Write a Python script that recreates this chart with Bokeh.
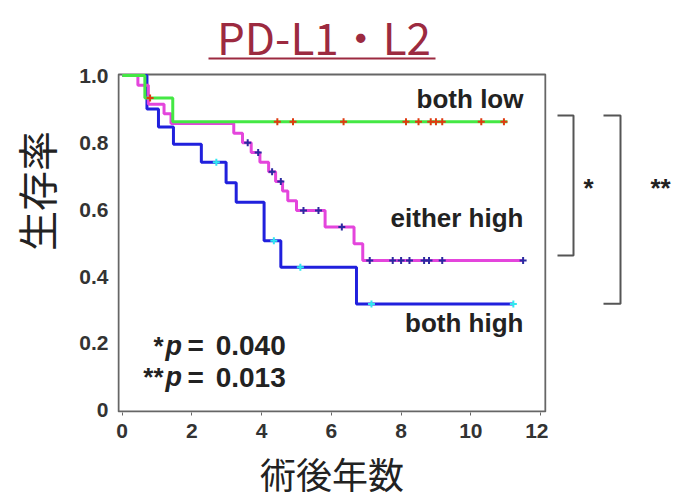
import math
from bokeh.plotting import figure
from bokeh.layouts import row
from bokeh.models import Range1d, FixedTicker
from bokeh.core.properties import value
from bokeh.embed import file_html
from bokeh.resources import INLINE

# ---------------- data ----------------
low_t = [0, 0.65, 1.45, 11.05]
low_s = [1.0, 0.933, 0.862, 0.862]
low_cens = [0.8, 4.45, 4.9, 6.35, 8.14, 8.5, 8.85, 9.0, 9.18, 10.3, 10.95]

either_t = [0, 0.45, 0.75, 1.2, 1.4, 3.2, 3.45, 3.7, 3.95, 4.2, 4.4, 4.6, 4.75, 5.0,
            5.82, 6.65, 6.9, 11.5]
either_s = [1.0, 0.971, 0.914, 0.886, 0.857, 0.828, 0.799, 0.770, 0.741, 0.713, 0.684,
            0.655, 0.626, 0.597, 0.548, 0.498, 0.448, 0.448]
either_cens = [3.6, 3.9, 4.3, 4.55, 5.2, 5.63, 6.3, 7.1, 7.76, 8.0, 8.24, 8.66, 8.8,
               9.18, 11.5]

high_t = [0, 0.71, 1.04, 1.47, 2.27, 2.98, 3.27, 4.07, 4.55, 6.72, 11.22]
high_s = [1.0, 0.90, 0.846, 0.795, 0.741, 0.68, 0.622, 0.507, 0.428, 0.318, 0.318]
high_cens = [2.7, 4.35, 5.11, 7.15, 11.22]

x_ticks = [0, 2, 4, 6, 8, 10, 12]
y_ticks = [0, 0.2, 0.4, 0.6, 0.8, 1.0]
y_tick_labels = {0: "0", 0.2: "0.2", 0.4: "0.4", 0.6: "0.6", 0.8: "0.8", 1.0: "1.0"}

title_text = "PD-L1・L2"
x_label = "術後年数"
y_label = "生存率"
group_labels = ["both low", "either high", "both high"]
p_stars = ["*", "**"]
p_values = ["0.040", "0.013"]

# plot-box limits (data units)
box_x = (-0.106, 12.14)
box_y = (-0.003, 1.003)


def surv_at(t, ts, ss):
    s = ss[0]
    for ti, si in zip(ts, ss):
        if ti <= t:
            s = si
    return s


SANS = value("Liberation Sans")
JP = value("Noto Sans CJK JP")
TXT = "#222222"
FRAME = "#666666"
TITLE_C = "#9c2a40"


def bare(fig):
    fig.axis.visible = False
    fig.grid.visible = False
    fig.outline_line_color = None


# ---------------- left strip: y label ----------------
lf = figure(width=70, height=499, x_range=Range1d(0, 70), y_range=Range1d(499, 0),
            output_backend="svg", toolbar_location=None,
            min_border_left=0, min_border_right=0, min_border_top=0, min_border_bottom=0)
bare(lf)
lf.text(x=[35], y=[232], text=[y_label], angle=math.pi / 2, text_align="center",
        text_baseline="middle", text_font=JP, text_font_size="40px", text_color=TXT)

# ---------------- main plot ----------------
yr = Range1d(-0.006, 1.224)
p = figure(frame_width=429, frame_height=412, x_range=Range1d(-0.135, 12.171), y_range=yr,
           output_backend="svg", toolbar_location=None,
           min_border_left=47, min_border_right=2, min_border_top=0, min_border_bottom=87,
           x_axis_label=x_label)
p.extra_x_ranges = {"px": Range1d(117, 546)}
p.extra_y_ranges = {"px": Range1d(412, 0)}
p.grid.visible = False
p.outline_line_color = None
p.background_fill_color = "white"

p.xaxis.ticker = FixedTicker(ticks=x_ticks)
p.yaxis.ticker = FixedTicker(ticks=y_ticks)
p.yaxis.major_label_overrides = y_tick_labels
for ax in (p.xaxis, p.yaxis):
    ax.axis_line_color = None
    ax.minor_tick_line_color = None
    ax.major_label_text_font = "Liberation Sans"
    ax.major_label_text_font_style = "bold"
    ax.major_label_text_font_size = "21px"
    ax.major_label_text_color = "#333333"
p.xaxis.axis_label_text_font = "Noto Sans CJK JP"
p.xaxis.axis_label_text_font_style = "normal"
p.xaxis.axis_label_text_color = TXT
p.xaxis.major_tick_out = 3
p.xaxis.major_tick_in = 0
p.xaxis.major_tick_line_color = FRAME
p.xaxis.major_label_standoff = 8
p.xaxis.axis_label_standoff = 6
p.xaxis.axis_label_text_font_size = "36px"
p.yaxis.major_tick_out = 0
p.yaxis.major_tick_in = 0
p.yaxis.major_label_standoff = 9

# title with underline
p.text(x=[323.5], y=[35], text=[title_text], text_align="center", text_baseline="middle",
       text_font=JP, text_font_size="44px", text_color=TITLE_C,
       x_range_name="px", y_range_name="px")
p.segment(x0=[208], y0=[58], x1=[435], y1=[58], line_color=TITLE_C, line_width=2,
          x_range_name="px", y_range_name="px")

# plot box
p.quad(left=[box_x[0]], right=[box_x[1]], bottom=[box_y[0]], top=[box_y[1]],
       fill_color=None, line_color=FRAME, line_width=2)

curves = [
    (high_t, high_s, high_cens, "#2020dd", "#30e8f0"),
    (either_t, either_s, either_cens, "#e445dc", "#2a2aa0"),
    (low_t, low_s, low_cens, "#44e844", "#e03a10"),
]
for ts, ss, cens, col, ccol in curves:
    p.step(ts, ss, mode="after", line_color=col, line_width=3)
for ts, ss, cens, col, ccol in curves:
    p.scatter(cens, [surv_at(c, ts, ss) for c in cens], marker="cross", size=7,
              line_color=ccol, line_width=2)

label_y = [0.931, 0.576, 0.26]
p.text(x=[11.51] * 3, y=label_y, text=group_labels, text_align="right",
       text_baseline="middle", text_font=SANS, text_font_style="bold",
       text_font_size="26px", text_color=TXT)

pv_y = [0.194, 0.0985]
p.text(x=[1.185] * 2, y=pv_y, text=p_stars, text_align="right", text_baseline="middle",
       text_font=SANS, text_font_style="bold", text_font_size="26px", text_color=TXT)
p.text(x=[1.24] * 2, y=pv_y, text=["p", "p"], text_align="left", text_baseline="middle",
       text_font=SANS, text_font_style="bold italic", text_font_size="27px", text_color=TXT)
p.text(x=[1.87] * 2, y=pv_y, text=["=", "="], text_align="left", text_baseline="middle",
       text_font=SANS, text_font_style="bold", text_font_size="28px", text_color=TXT)
p.text(x=[2.68] * 2, y=pv_y, text=p_values, text_align="left", text_baseline="middle",
       text_font=SANS, text_font_style="bold", text_font_size="28px", text_color=TXT)

# ---------------- right strip: significance brackets ----------------
q = figure(width=129, frame_height=412, x_range=Range1d(548, 677), y_range=yr,
           output_backend="svg", toolbar_location=None,
           min_border_left=0, min_border_right=0, min_border_top=0, min_border_bottom=87)
bare(q)
q.line([557, 573, 573, 557], [0.881, 0.881, 0.463, 0.463], line_color="#555555", line_width=2)
q.line([603, 620, 620, 603], [0.881, 0.881, 0.319, 0.319], line_color="#555555", line_width=2)
q.text(x=[588, 660], y=[0.663, 0.663], text=p_stars, text_align="center",
       text_baseline="middle", text_font=SANS, text_font_style="bold",
       text_font_size="26px", text_color=TXT)

layout = row(lf, p, q)
open("out.html", "w").write(file_html(layout, INLINE))
